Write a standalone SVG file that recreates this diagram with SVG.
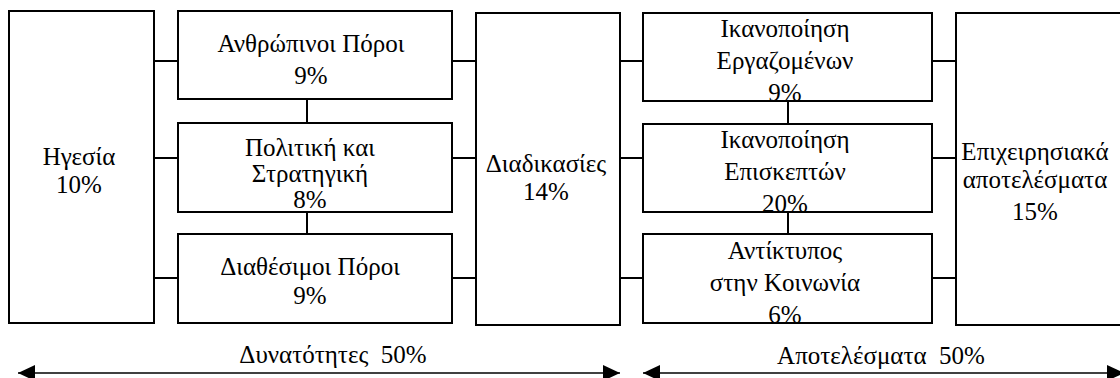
<svg xmlns="http://www.w3.org/2000/svg" width="1120" height="378" viewBox="0 0 1120 378">
<style>
.box{fill:#fff;stroke:#000;stroke-width:2}
.con{stroke:#000;stroke-width:2;fill:none}
.arr{stroke:#000;stroke-width:1.5;fill:none}
</style>
<defs>
<marker id="ah" viewBox="0 0 17 16" refX="17" refY="8" markerWidth="17" markerHeight="16" markerUnits="userSpaceOnUse" orient="auto-start-reverse">
<path d="M0,0 L17,8 L0,16 Z" fill="#000"/>
</marker>
</defs>
<rect width="1120" height="378" fill="#fff"/>
<g id="connectors">
<path class="con" d="M154,61H178M154,158H178M154,278H178"/>
<path class="con" d="M452,61H476M452,158H476M452,278H476"/>
<path class="con" d="M620,61H643M620,158H643M620,278H643"/>
<path class="con" d="M932,61H956M932,158H956M932,278H956"/>
<path class="con" d="M307,99V123M307,212V234"/>
<path class="con" d="M788,101V124M788,212V234"/>
<line class="arr" x1="18" y1="373" x2="620" y2="373" marker-start="url(#ah)" marker-end="url(#ah)"/>
<line class="arr" x1="643" y1="373" x2="1124" y2="373" marker-start="url(#ah)" marker-end="url(#ah)"/>
</g>
<g font-family="Liberation Serif, DejaVu Serif, serif" font-size="25" fill="#000" text-anchor="middle">
<g id="hgesia"><rect class="box" x="9" y="11" width="145" height="312"/><text x="79" y="165">Ηγεσία</text><text x="79" y="193">10%</text></g>
<g id="anthropinoi"><rect class="box" x="178" y="11" width="274" height="88"/><text x="311" y="52">Ανθρώπινοι Πόροι</text><text x="311" y="84">9%</text></g>
<g id="politiki"><rect class="box" x="178" y="123" width="274" height="89"/><text x="310" y="156">Πολιτική και</text><text x="310" y="182">Στρατηγική</text><text x="310" y="208">8%</text></g>
<g id="diathesimoi"><rect class="box" x="178" y="234" width="274" height="89"/><text x="310" y="275">Διαθέσιμοι Πόροι</text><text x="310" y="304">9%</text></g>
<g id="diadikasies"><rect class="box" x="476" y="13" width="144" height="312"/><text x="546" y="172">Διαδικασίες</text><text x="546" y="200">14%</text></g>
<g id="ergazomenoi"><rect class="box" x="643" y="13" width="289" height="88"/><text x="785" y="37">Ικανοποίηση</text><text x="785" y="69">Εργαζομένων</text><text x="785" y="101">9%</text></g>
<g id="episkeptes"><rect class="box" x="643" y="124" width="289" height="88"/><text x="785" y="148">Ικανοποίηση</text><text x="785" y="180">Επισκεπτών</text><text x="785" y="212">20%</text></g>
<g id="antiktypos"><rect class="box" x="643" y="234" width="289" height="89"/><text x="785" y="259">Αντίκτυπος</text><text x="785" y="291">στην Κοινωνία</text><text x="785" y="323">6%</text></g>
<g id="epixeirisiaka"><rect class="box" x="956" y="13" width="180" height="312"/><text x="1035" y="160">Επιχειρησιακά</text><text x="1035" y="188">αποτελέσματα</text><text x="1035" y="220">15%</text></g>
<g id="labels"><text x="333" y="363" xml:space="preserve">Δυνατότητες  50%</text><text x="881" y="364" xml:space="preserve">Αποτελέσματα  50%</text></g>
</g>
</svg>
